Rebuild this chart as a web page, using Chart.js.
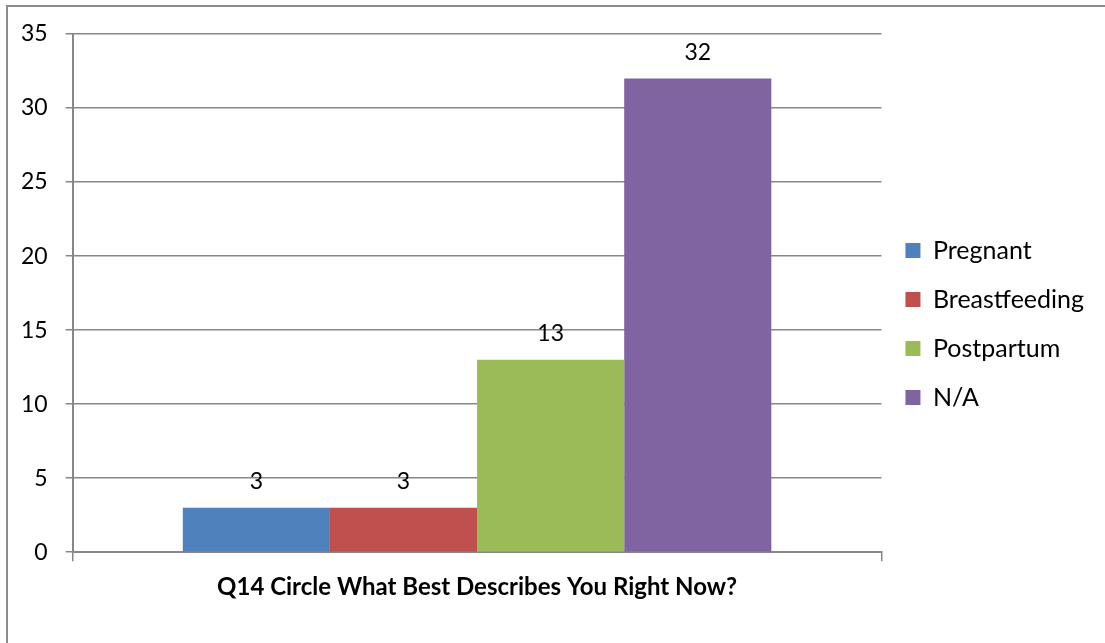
<!DOCTYPE html>
<html>
<head>
<meta charset="utf-8">
<title>Q14</title>
<script src="https://cdn.jsdelivr.net/npm/chart.js"></script>
<style>
  html, body { margin: 0; padding: 0; background: #fff; }
  #wrap { width: 1105px; height: 643px; position: relative; }
</style>
</head>
<body>
<div id="wrap"><canvas id="q14Chart"></canvas></div>
<script>
const categories = ["Q14 Circle What Best Describes You Right Now?"];
const seriesNames = ["Pregnant", "Breastfeeding", "Postpartum", "N/A"];
const seriesValues = [3, 3, 13, 32];
const seriesColors = ["#4F81BD", "#C0504D", "#9BBB59", "#8064A2"];

const FONT = "Lato, 'Open Sans', sans-serif";
const GRID = "#878787";

// frame around the chart (only top and left edges are inside the canvas)
const framePlugin = {
    id: "frame",
    beforeDraw(chart) {
        const ctx = chart.ctx;
        ctx.save();
        ctx.strokeStyle = "#8c8c8c";
        ctx.lineWidth = 2;
        ctx.beginPath();
        ctx.moveTo(7, chart.height);
        ctx.lineTo(7, 6);
        ctx.lineTo(chart.width, 6);
        ctx.stroke();
        ctx.restore();
    }
};

// value labels above each bar
const valueLabels = {
    id: "valueLabels",
    afterDatasetsDraw(chart) {
        const ctx = chart.ctx;
        ctx.save();
        ctx.font = "23px " + FONT;
        ctx.fillStyle = "#000";
        ctx.textAlign = "center";
        ctx.textBaseline = "middle";
        chart.data.datasets.forEach((ds, i) => {
            chart.getDatasetMeta(i).data.forEach((bar, j) => {
                ctx.fillText(String(ds.data[j]), bar.x, bar.y - 26);
            });
        });
        ctx.restore();
    }
};

const datasets = seriesNames.map((name, i) => ({
    label: name,
    data: [seriesValues[i]],
    backgroundColor: seriesColors[i],
    borderWidth: 0,
    barPercentage: 1,
    categoryPercentage: 0.7277
}));

new Chart(document.getElementById("q14Chart"), {
    type: "bar",
    data: { labels: categories, datasets: datasets },
    plugins: [framePlugin, valueLabels],
    options: {
        responsive: true,
        maintainAspectRatio: false,
        animation: false,
        layout: { padding: { left: 3, top: 34, right: 11, bottom: 29 } },
        plugins: {
            tooltip: { enabled: false },
            legend: {
                position: "right",
                labels: {
                    boxWidth: 15,
                    boxHeight: 15,
                    padding: 24,
                    color: "#000",
                    font: { family: FONT, size: 25 }
                }
            }
        },
        scales: {
            x: {
                grid: {
                    display: true,
                    drawOnChartArea: false,
                    drawTicks: true,
                    tickLength: 9,
                    color: GRID,
                    lineWidth: 1.5
                },
                border: { display: true, color: GRID, width: 2 },
                ticks: {
                    color: "#000",
                    padding: 12,
                    font: { family: FONT, size: 24, weight: "bold" }
                }
            },
            y: {
                min: 0,
                max: 35,
                grid: { color: GRID, lineWidth: 1.5, tickLength: 7 },
                border: { display: true, color: GRID, width: 2 },
                ticks: {
                    stepSize: 5,
                    color: "#000",
                    padding: 18,
                    font: { family: FONT, size: 23 }
                }
            }
        }
    }
});
</script>
</body>
</html>
